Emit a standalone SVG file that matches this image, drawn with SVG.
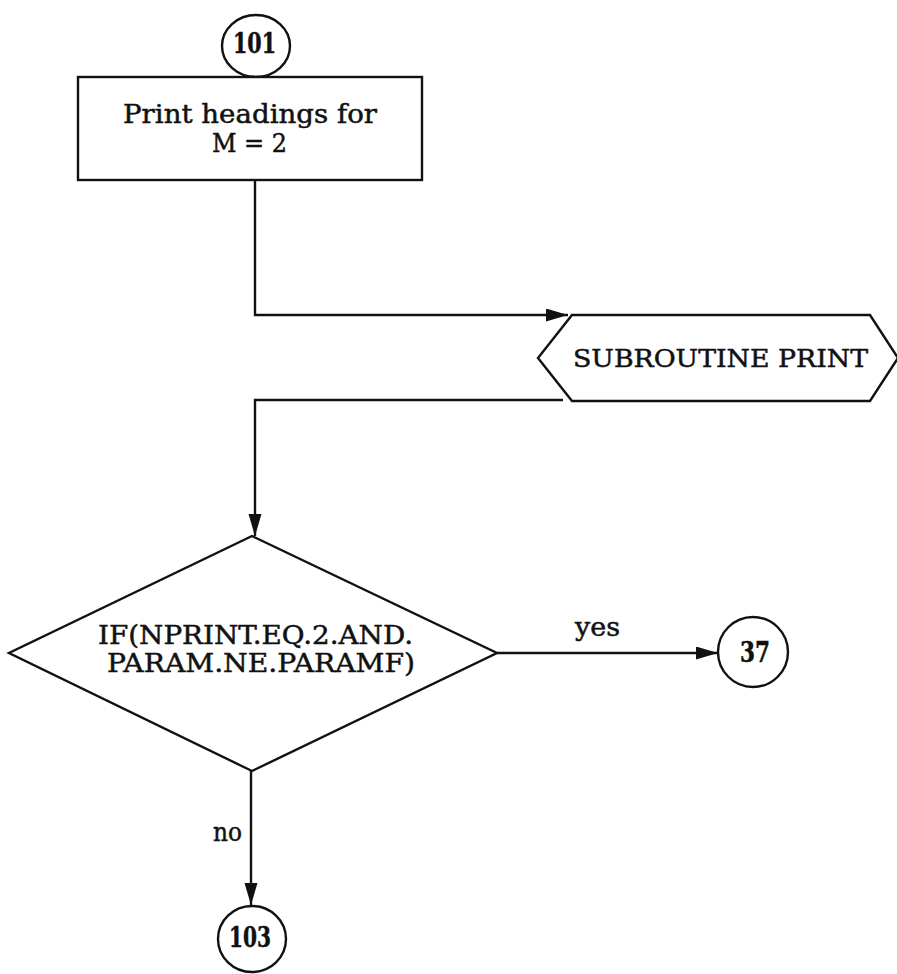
<svg xmlns="http://www.w3.org/2000/svg" width="897" height="974" viewBox="0 0 897 974">
<style>
.s{fill:none;stroke:#111;stroke-width:2.4}
.n{fill:#fff;stroke:#111;stroke-width:2.4}
.t{font-family:"DejaVu Serif","Liberation Serif",serif;font-size:26px;fill:#111;stroke:#111;stroke-width:0.5}
.b{font-weight:bold;font-size:27px}
</style>
<defs>
<marker id="a" markerUnits="userSpaceOnUse" markerWidth="22" markerHeight="14" refX="22" refY="6.5" orient="auto">
<path d="M0,0 L22,6.5 L0,13 z" fill="#111"/>
</marker>
</defs>
<g id="connectors">
<polyline class="s" points="255,180 255,315 568,315" marker-end="url(#a)"/>
<polyline class="s" points="563,400 255,400 255,536" marker-end="url(#a)"/>
<line class="s" x1="497" y1="653" x2="718" y2="653" marker-end="url(#a)"/>
<line class="s" x1="251" y1="771" x2="251" y2="905" marker-end="url(#a)"/>
<text class="t" x="575" y="636" textLength="45" lengthAdjust="spacingAndGlyphs">yes</text>
<text class="t" x="213" y="841" textLength="29" lengthAdjust="spacingAndGlyphs">no</text>
</g>
<g id="c101">
<ellipse class="n" cx="256" cy="46" rx="34" ry="31"/>
<text class="t b" x="233" y="53" textLength="43" lengthAdjust="spacingAndGlyphs">101</text>
</g>
<g id="box">
<rect class="n" x="78" y="77" width="344" height="103"/>
<text class="t" x="123" y="123" textLength="254" lengthAdjust="spacingAndGlyphs">Print headings for</text>
<text class="t" x="212" y="152" textLength="75" lengthAdjust="spacingAndGlyphs">M = 2</text>
</g>
<g id="sub">
<polygon class="n" points="572,315 870,315 898,358 870,401 572,401 538,358"/>
<text class="t" x="573" y="367" textLength="295" lengthAdjust="spacingAndGlyphs" style="font-size:25px">SUBROUTINE PRINT</text>
</g>
<g id="dec">
<polygon class="n" points="252,536 497,653 252,771 9,653"/>
<text class="t" x="98" y="644" textLength="315" lengthAdjust="spacingAndGlyphs">IF(NPRINT.EQ.2.AND.</text>
<text class="t" x="107" y="672" textLength="308" lengthAdjust="spacingAndGlyphs">PARAM.NE.PARAMF)</text>
</g>
<g id="c37">
<ellipse class="n" cx="753" cy="652" rx="35" ry="35"/>
<text class="t b" x="740" y="662" textLength="30" lengthAdjust="spacingAndGlyphs">37</text>
</g>
<g id="c103">
<ellipse class="n" cx="252" cy="939" rx="34" ry="33"/>
<text class="t b" x="229" y="947" textLength="42" lengthAdjust="spacingAndGlyphs">103</text>
</g>
</svg>
